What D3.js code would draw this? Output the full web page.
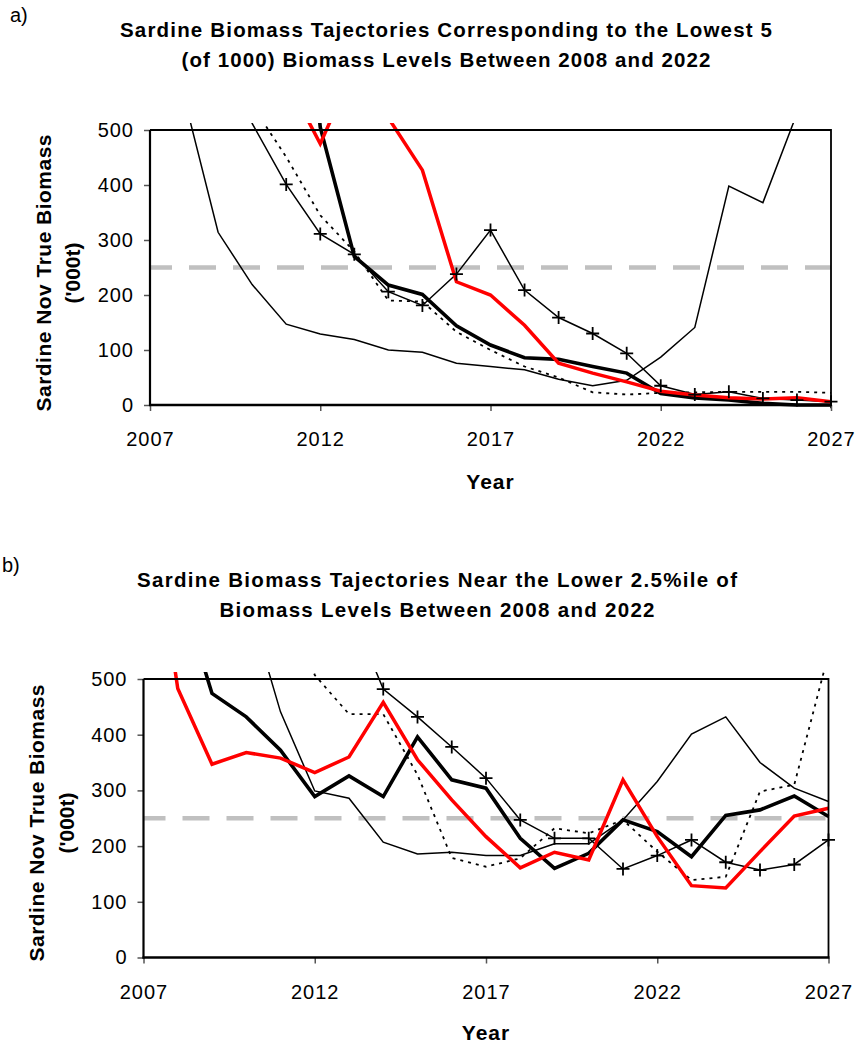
<!DOCTYPE html>
<html>
<head>
<meta charset="utf-8">
<script src="https://cdn.jsdelivr.net/npm/d3@7"></script>
<style>
  body { margin: 0; background: #fff; }
  svg { display: block; font-family: "Liberation Sans", Arial, sans-serif; }
</style>
</head>
<body>
<svg id="chart" width="857" height="1046"></svg>
<script>
// years on the x axis (both panels)
var years = [2007, 2008, 2009, 2010, 2011, 2012, 2013, 2014, 2015, 2016, 2017,
             2018, 2019, 2020, 2021, 2022, 2023, 2024, 2025, 2026, 2027];
var xTicks = [2007, 2012, 2017, 2022, 2027];
var yTicks = [0, 100, 200, 300, 400, 500];
var threshold = 250;

// panel a) lowest 5 trajectories ('000t)
var aThin   = [900, 560, 314, 219, 147, 129, 119, 100, 96, 76, 70, 64, 47, 35, 45, 87, 141, 398, 368, 530, 700];
var aCross  = [1200, 1000, 800, 512, 401, 311, 274, 206, 181, 238, 318, 209, 159, 130, 94, 35, 19, 24, 12, 9, 6];
var aDotted = [1200, 1000, 750, 545, 451, 345, 279, 190, 188, 133, 100, 70, 50, 23, 19, 22, 23, 24, 24, 24, 22];
var aThick  = [1500, 1400, 1300, 1200, 1100, 505, 270, 218, 201, 144, 109, 86, 83, 70, 58, 21, 13, 9, 3, 0, 0];
var aRed    = [1200, 1000, 900, 750, 593, 475, 614, 522, 427, 224, 200, 145, 76, 58, 42, 25, 18, 13, 11, 13, 6];

// panel b) trajectories near the lower 2.5%ile
var bThin   = [1200, 1000, 800, 650, 441, 299, 286, 207, 186, 189, 183, 183, 204, 204, 247, 316, 401, 432, 350, 304, 280];
var bCross  = [1200, 1100, 1000, 900, 800, 700, 630, 482, 432, 378, 322, 247, 214, 214, 159, 183, 211, 171, 157, 167, 211];
var bDotted = [1200, 1000, 900, 800, 700, 507, 437, 437, 328, 179, 163, 178, 232, 223, 247, 190, 139, 145, 298, 310, 545];
var bThick  = [1000, 675, 474, 432, 372, 289, 326, 289, 396, 319, 304, 214, 160, 187, 247, 226, 181, 255, 265, 290, 253];
var bRed    = [900, 483, 347, 368, 358, 332, 360, 458, 355, 283, 217, 161, 189, 175, 319, 217, 129, 125, 190, 254, 268];

var styles = {
  thin:   { stroke: "#000", width: 1.5, dash: null },
  cross:  { stroke: "#000", width: 1.5, dash: null, marker: true },
  dotted: { stroke: "#000", width: 1.8, dash: "3,5" },
  thick:  { stroke: "#000", width: 3.6, dash: null },
  red:    { stroke: "#ff0000", width: 3.5, dash: null }
};

var panels = [
  {
    id: "a", tag: "a)", tagX: 10, tagY: 22,
    title: ["Sardine Biomass Tajectories Corresponding to the Lowest 5",
            "(of 1000) Biomass Levels Between 2008 and 2022"],
    titleW: [652, 529],
    titleX: 446, titleY: [37, 67],
    left: 150, right: 831, top: 130, bottom: 405,
    yTitleX: [51, 80], yTitleY: 273, yearY: 489,
    series: [["thin", aThin], ["cross", aCross], ["dotted", aDotted], ["thick", aThick], ["red", aRed]]
  },
  {
    id: "b", tag: "b)", tagX: 2, tagY: 572,
    title: ["Sardine Biomass Tajectories Near the Lower 2.5%ile of",
            "Biomass Levels Between 2008 and 2022"],
    titleW: [600, 435],
    titleX: 437, titleY: [587, 617],
    left: 143.5, right: 828.5, top: 679, bottom: 957.5,
    yTitleX: [44, 74], yTitleY: 823, yearY: 1040,
    series: [["thin", bThin], ["cross", bCross], ["dotted", bDotted], ["thick", bThick], ["red", bRed]]
  }
];

var svg = d3.select("#chart");
svg.append("rect").attr("width", 857).attr("height", 1046).attr("fill", "#fff");

panels.forEach(function(p) {
  var x = d3.scaleLinear().domain([2007, 2027]).range([p.left, p.right]);
  var y = d3.scaleLinear().domain([0, 500]).range([p.bottom, p.top]);
  var g = svg.append("g").attr("class", "panel-" + p.id);

  // clip: Excel lets lines poke a few px above the plot area
  var defs = svg.append("defs");
  defs.append("clipPath").attr("id", "clipLine-" + p.id)
    .append("rect")
      .attr("x", p.left).attr("y", p.top - 7)
      .attr("width", p.right - p.left + 8).attr("height", p.bottom - p.top + 9);
  defs.append("clipPath").attr("id", "clipMark-" + p.id)
    .append("rect")
      .attr("x", p.left - 8).attr("y", p.top)
      .attr("width", p.right - p.left + 16).attr("height", p.bottom - p.top + 8);

  // tag and title
  g.append("text").attr("x", p.tagX).attr("y", p.tagY)
    .attr("font-size", 20).text(p.tag);
  g.selectAll("text.title").data(p.title).enter().append("text")
    .attr("class", "title")
    .attr("x", p.titleX).attr("y", function(d, i) { return p.titleY[i]; })
    .attr("text-anchor", "middle").attr("font-size", 20.5).attr("font-weight", "bold")
    .attr("textLength", function(d, i) { return p.titleW[i]; })
    .attr("lengthAdjust", "spacing")
    .text(function(d) { return d; });

  // threshold line
  g.append("line")
    .attr("x1", x(2007)).attr("x2", x(2027))
    .attr("y1", y(threshold)).attr("y2", y(threshold))
    .attr("stroke", "#c0c0c0").attr("stroke-width", 4.3)
    .attr("stroke-dasharray", "27,17").attr("stroke-dashoffset", 5);

  var line = d3.line()
    .x(function(d, i) { return x(years[i]); })
    .y(function(d) { return y(d); });

  var lines = g.append("g").attr("clip-path", "url(#clipLine-" + p.id + ")");
  p.series.forEach(function(s) {
    var st = styles[s[0]];
    lines.append("path")
      .datum(s[1])
      .attr("d", line)
      .attr("fill", "none")
      .attr("stroke", st.stroke)
      .attr("stroke-width", st.width)
      .attr("stroke-linejoin", "miter")
      .attr("stroke-dasharray", st.dash);
    if (st.marker) {
      g.append("g").attr("clip-path", "url(#clipMark-" + p.id + ")")
        .selectAll("path.mk").data(s[1]).enter().append("path")
        .attr("class", "mk")
        .attr("d", function(d, i) {
          var cx = x(years[i]), cy = y(d);
          return "M" + (cx - 6.5) + "," + cy + "H" + (cx + 6.5) +
                 "M" + cx + "," + (cy - 6.5) + "V" + (cy + 6.5);
        })
        .attr("stroke", "#000").attr("stroke-width", 1.8);
    }
  });

  // frame (top and right)
  g.append("path")
    .attr("d", "M" + p.left + "," + p.top + "H" + p.right + "V" + p.bottom)
    .attr("fill", "none").attr("stroke", "#000").attr("stroke-width", 1.8);

  // axes
  var yAxis = g.append("g").attr("transform", "translate(" + p.left + ",0)")
    .call(d3.axisLeft(y).tickValues(yTicks).tickSize(6).tickPadding(10).tickFormat(d3.format("d")));
  var xAxis = g.append("g").attr("transform", "translate(0," + p.bottom + ")")
    .call(d3.axisBottom(x).tickValues(xTicks).tickSize(6).tickPadding(21).tickFormat(d3.format("d")));
  [yAxis, xAxis].forEach(function(ax) {
    ax.select(".domain").remove();
    ax.selectAll(".tick line").attr("stroke", "#555").attr("stroke-width", 1.5);
    ax.selectAll(".tick text").attr("font-size", 20).attr("fill", "#000")
      .attr("letter-spacing", 1)
      .attr("font-family", "'Liberation Sans', Arial, sans-serif");
  });
  g.append("line").attr("x1", p.left).attr("x2", p.left)
    .attr("y1", p.top).attr("y2", p.bottom + 1)
    .attr("stroke", "#000").attr("stroke-width", 2.2);
  g.append("line").attr("x1", p.left - 1).attr("x2", p.right + 1)
    .attr("y1", p.bottom).attr("y2", p.bottom)
    .attr("stroke", "#000").attr("stroke-width", 2.4);

  // axis titles
  g.append("text")
    .attr("transform", "translate(" + p.yTitleX[0] + "," + p.yTitleY + ") rotate(-90)")
    .attr("text-anchor", "middle").attr("font-size", 21).attr("font-weight", "bold")
    .attr("textLength", 277).attr("lengthAdjust", "spacing")
    .text("Sardine Nov True Biomass");
  g.append("text")
    .attr("transform", "translate(" + p.yTitleX[1] + "," + p.yTitleY + ") rotate(-90)")
    .attr("text-anchor", "middle").attr("font-size", 21).attr("font-weight", "bold")
    .text("('000t)");
  g.append("text")
    .attr("x", (p.left + p.right) / 2).attr("y", p.yearY)
    .attr("text-anchor", "middle").attr("font-size", 21).attr("font-weight", "bold")
    .attr("letter-spacing", 1)
    .text("Year");
});
</script>
</body>
</html>
